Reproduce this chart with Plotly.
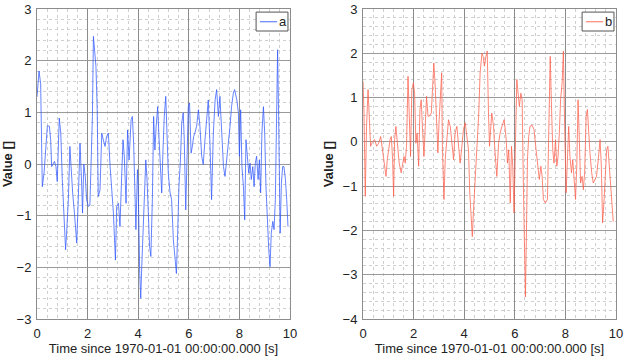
import plotly.graph_objects as go

# ---- data ----
t_a = [0, 0.08, 0.145, 0.18, 0.21, 0.28, 0.36, 0.41, 0.49, 0.54, 0.58, 0.65, 0.69, 0.75, 0.8,
       0.88, 0.94, 1.0, 1.04, 1.09, 1.13, 1.17, 1.24, 1.3, 1.36, 1.41, 1.48, 1.57, 1.63, 1.7,
       1.77, 1.8, 1.85, 1.91, 1.96, 2.03, 2.09, 2.15, 2.19, 2.23, 2.28, 2.33, 2.38, 2.42, 2.49,
       2.56, 2.62, 2.69, 2.75, 2.82, 2.89, 2.95, 3.02, 3.1,
       3.15, 3.22, 3.28, 3.35, 3.4, 3.45, 3.52, 3.58, 3.64, 3.72, 3.77, 3.82, 3.87, 3.91, 3.97,
       4.0, 4.06, 4.1, 4.14, 4.19, 4.24, 4.3, 4.35, 4.4, 4.45, 4.5, 4.56, 4.61, 4.66, 4.71,
       4.77, 4.82, 4.87, 4.93, 4.98, 5.03, 5.09, 5.14, 5.19, 5.26, 5.32, 5.39, 5.46, 5.51,
       5.56, 5.61, 5.67, 5.72, 5.78, 5.82, 5.88, 5.93, 5.98, 6.03, 6.09, 6.14, 6.19, 6.24,
       6.31, 6.38,
       6.44, 6.51, 6.57, 6.64, 6.71, 6.77, 6.84, 6.9, 6.97, 7.04, 7.1, 7.17, 7.23, 7.3, 7.37,
       7.43, 7.5, 7.56, 7.63, 7.69, 7.76, 7.81, 7.9, 7.96, 8.0, 8.05, 8.1, 8.16, 8.21, 8.26,
       8.32, 8.37, 8.42, 8.47, 8.53, 8.58, 8.63, 8.68, 8.74, 8.79, 8.84, 8.89, 8.95, 9.0, 9.05,
       9.11, 9.16, 9.21, 9.26, 9.32, 9.37, 9.42, 9.47, 9.51, 9.55, 9.61, 9.66, 9.71, 9.76,
       9.82, 9.87, 9.92]
v_a = [1.3, 1.8, 1.55, 0.66, -0.44, -0.17, 0.34, 0.74, 0.73, 0.47, -0.05, 0.02, 0.05, -0.05, -0.34,
       0.89, 0.6, -0.3, -0.7, -1.27, -1.66, -1.34, -0.69, 0.34, -0.18, -0.56, -0.95, -1.53, -0.7, 0.4,
       -0.44, -0.95, 0.0, -0.25, -0.69, -0.82, -0.8, 0.08, 0.92, 2.47, 2.2, 1.89, 1.05, -0.63, -0.5,
       0.6, 0.47, 0.34, 0.53, 0.6, -0.05, -0.44, -0.95, -1.86,
       -0.82, -0.76, -1.21, -0.18, 0.47, 0.15, -0.76, 0.66, 0.08, 0.86, 0.92, 0.4, -0.69, -1.27, -0.11,
       -0.44, -2.12, -2.6, -1.99, -1.21, -0.44, 0.08, -0.3, -0.95, -1.6, -1.79, -0.69, 0.92, 0.27, 0.73,
       1.11, 0.53, -0.05, -0.56, 0.27, 0.92, 1.31, 0.6, -0.18, -0.56, -0.69, -1.47, -1.86, -2.12,
       -1.34, -0.44, 0.08, 0.79, 0.99, 0.47, -0.89, 0.47, 1.11, 1.18, 0.21, 0.34, 0.53, 0.6,
       0.73, 1.05,
       0.73, 0.15, -0.01, 0.47, 0.86, 1.24, 0.34, -0.69, 0.6, 1.24, 1.44, 0.92, 1.31, 0.47, -0.05,
       -0.24, 0.08, 0.34, 0.73, 1.11, 1.37, 1.44, 1.24, 0.99, 0.15, 1.05, -0.05, -0.44, -1.08, 0.47,
       0.08, -0.18, 0.02, -0.3, -0.05, -0.44, 0.02, 0.15, -0.3, 0.08, -0.56, 0.6, 1.11, 0.6, -0.44,
       -1.21, -1.66, -1.99, -1.34, -1.11, -1.27, -0.69, 1.05, 2.21, 0.92, -1.34, -0.37, -0.05, -0.05,
       -0.3, -0.69, -1.21]

t_b = [0, 0.04, 0.09, 0.14, 0.2, 0.25, 0.3, 0.38, 0.46, 0.54, 0.62, 0.7, 0.75, 0.83, 0.91, 0.96,
       1.01, 1.07, 1.12, 1.17, 1.21, 1.25, 1.3, 1.36, 1.43, 1.51, 1.57, 1.62, 1.67, 1.72, 1.78,
       1.83, 1.88, 1.93, 1.99, 2.04, 2.09, 2.14, 2.2, 2.25, 2.3, 2.36, 2.41, 2.46, 2.51, 2.57,
       2.62, 2.7, 2.75, 2.8, 2.86, 2.91, 2.96, 3.01, 3.07, 3.11, 3.14, 3.2, 3.25, 3.33, 3.38,
       3.45, 3.51, 3.58, 3.64, 3.71, 3.78, 3.84, 3.91, 3.97, 4.04, 4.1, 4.17, 4.22, 4.28, 4.32,
       4.37, 4.43, 4.5, 4.57, 4.63, 4.7, 4.75, 4.8, 4.86, 4.91, 4.96, 5.0, 5.09, 5.16, 5.22,
       5.29, 5.36, 5.42, 5.49, 5.58, 5.66, 5.71, 5.76, 5.82, 5.87, 5.92, 5.97, 6.03, 6.08, 6.13,
       6.18, 6.24, 6.29, 6.34, 6.38, 6.42, 6.46, 6.5, 6.55, 6.6, 6.68, 6.76, 6.84, 6.92, 6.97,
       7.03, 7.08, 7.13, 7.21, 7.29, 7.34, 7.4, 7.45, 7.5, 7.55, 7.61, 7.66, 7.71, 7.76, 7.81,
       7.87, 7.92, 7.97, 8.03, 8.08, 8.13, 8.18, 8.24, 8.29, 8.34, 8.4, 8.45, 8.5, 8.55, 8.6,
       8.66, 8.71, 8.76, 8.82, 8.87, 8.92, 8.97, 9.04, 9.1, 9.17, 9.23, 9.3, 9.37, 9.42, 9.47,
       9.53, 9.58, 9.63, 9.68, 9.74, 9.79, 9.84, 9.89]
v_b = [1.37, 0.65, -1.23, 0.35, 1.18, 0.58, -0.1, 0.01, 0.05, -0.1, -0.03, 0.12, -0.1, -0.4, -0.78, -0.4,
       -0.18, 0.05, 0.12, -0.4, -1.23, 0.05, 0.35, -0.1, -0.48, -0.7, -0.48, -0.33, -0.48, -0.1, 1.48,
       0.2, -0.33, 1.18, 1.33, 1.1, -0.03, 0.2, -0.55, 0.73, 0.95, 0.2, -0.33, 0.35, 1.03, 0.58,
       0.58, 0.65, 1.26, 1.78, 1.18, 0.35, -0.25, 0.5, 1.33, 1.56, -0.18, -1.3, -0.4, 0.2, 0.5,
       0.35, -0.03, -0.4, 0.2, 0.35, -0.1, -0.48, -0.1, 0.28, 0.43, 0.2, -0.18, -1.15, -1.68, -2.14,
       -1.53, -0.93, -0.25, 0.58, 1.56, 2.0, 1.93, 1.71, 1.93, 2.05, 0.65, -0.1, 0.65, 0.35, -0.25,
       -0.78, -0.03, 0.2, 0.35, 0.5, 0.05, -0.48, -0.18, -1.38, -0.1, -0.55, -1.6, 0.05, 1.41, 1.1,
       0.8, 1.1, 0.95, -1.0, -2.44, -3.5, -2.06, -0.4, 0.12, 0.35, 0.38, 0.28, -0.18, -0.7, -0.85,
       -0.55, -0.78, -1.3, -1.38, -1.3, 0.2, 1.93, 0.8, -0.18, -0.48, 0.05, -0.55, -0.33, 0.2, 0.95,
       1.33, 2.05, 0.35, -1.15, -0.4, 0.35, -0.33, -0.7, -0.4, -0.93, -1.3, -0.55, 0.95, 0.05, -0.93,
       -0.78, -1.08, -0.7, 0.58, 0.73, 0.2, -0.25, -0.7, -0.93, -0.85, -0.78, -0.4, 0.05, -0.55, -1.83,
       -1.3, -0.7, -0.18, -0.1, -0.55, -1.0, -1.45, -1.8]

names = ["a", "b"]
colors = ["rgba(50,90,255,0.75)", "rgba(255,95,75,0.75)"]
y_ranges = [[-3, 3], [-4, 3]]
x_title = "Time since 1970-01-01 00:00:00.000 [s]"
y_title = "<b>Value []</b>"

FONT = "Liberation Sans, Arial, Helvetica, sans-serif"
W, H = 629, 362
x_domains = [[37 / W, 290 / W], [363 / W, 616 / W]]
y_domain = [1 - 319 / H, 1 - 9 / H]

fig = go.Figure()
fig.add_trace(go.Scatter(x=t_a, y=v_a, mode="lines", name=names[0],
                         line=dict(color=colors[0], width=1), xaxis="x", yaxis="y",
                         showlegend=False))
fig.add_trace(go.Scatter(x=t_b, y=v_b, mode="lines", name=names[1],
                         line=dict(color=colors[1], width=1), xaxis="x2", yaxis="y2",
                         showlegend=False))

def xa(dom, anchor):
    return dict(domain=dom, anchor=anchor, range=[0, 10], dtick=2, tick0=0, automargin=False,
                showgrid=True, gridcolor="#8c8c8c", gridwidth=1,
                minor=dict(dtick=0.4, showgrid=True, gridcolor="#cfcfcf", griddash="dot", gridwidth=1),
                showline=True, mirror=True, linecolor="#8c8c8c", linewidth=1,
                zeroline=False, ticks="", ticklabelstandoff=2,
                tickfont=dict(size=13, color="#222", family=FONT),
                title=dict(text=x_title, font=dict(size=13, color="#222", family=FONT), standoff=3))

def ya(rng, anchor):
    return dict(domain=y_domain, anchor=anchor, range=rng, dtick=1, tick0=0, automargin=False,
                showgrid=True, gridcolor="#9a9a9a", gridwidth=1,
                minor=dict(dtick=0.2, showgrid=True, gridcolor="#cfcfcf", griddash="dot", gridwidth=1),
                showline=True, mirror=True, linecolor="#8c8c8c", linewidth=1,
                zeroline=False, ticks="", ticklabelstandoff=2,
                tickfont=dict(size=13, color="#222", family=FONT),
                title=dict(text=y_title, font=dict(size=13, color="#222", family=FONT), standoff=6))

fig.update_layout(
    width=W, height=H, margin=dict(l=0, r=0, t=0, b=0, autoexpand=False),
    paper_bgcolor="white", plot_bgcolor="white",
    xaxis=xa(x_domains[0], "y"), yaxis=ya(y_ranges[0], "x"),
    xaxis2=xa(x_domains[1], "y2"), yaxis2=ya(y_ranges[1], "x2"),
    font=dict(family=FONT),
)

# legend boxes drawn inside each axes (domain-relative)
for i, (xr, yr) in enumerate([("x domain", "y domain"), ("x2 domain", "y2 domain")]):
    fig.add_shape(type="rect", xref=xr, yref=yr, x0=0.866, x1=0.992, y0=0.929, y1=0.990,
                  line=dict(color="#555", width=1), fillcolor="white", layer="above")
    fig.add_shape(type="line", xref=xr, yref=yr, x0=0.881, x1=0.949, y0=0.959, y1=0.959,
                  line=dict(color=colors[i], width=1.2), layer="above")
    fig.add_annotation(xref=xr, yref=yr, x=0.971, y=0.959, text=names[i], showarrow=False,
                       font=dict(size=13, color="#222", family=FONT), xanchor="center", yanchor="middle")

fig.write_html("out.html", config={"responsive": False, "displayModeBar": False},
               post_script="document.body.style.margin='0px';document.body.style.overflow='hidden';")
